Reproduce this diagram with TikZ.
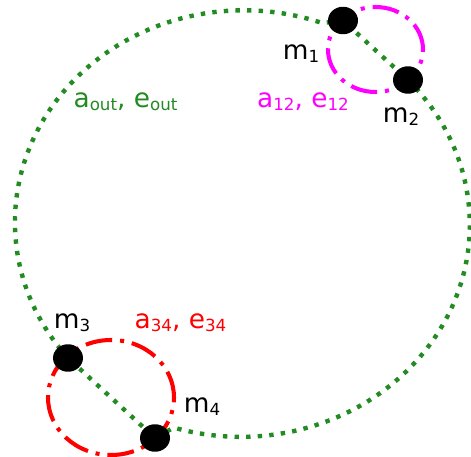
\documentclass[tikz,border=0pt]{standalone}
\usepackage{fontspec}
\setmainfont{DejaVu Sans}
\usetikzlibrary{shapes.geometric}
\definecolor{orbitgreen}{RGB}{34,139,34}
\definecolor{binmagenta}{RGB}{255,0,255}
\definecolor{binred}{RGB}{255,0,0}
\newcommand{\sbs}[1]{\raisebox{-1.6pt}{\fontsize{9.5}{10}\selectfont #1}}
\tikzset{
  orbit/.style={draw=orbitgreen, line width=2.5pt, dash pattern=on 2.5pt off 4.1pt},
  binary/.style={line width=2.3pt, dash pattern=on 15.3pt off 4.5pt on 2.3pt off 4.5pt},
  mass/.style={ellipse, fill=black, inner sep=0pt, minimum width=0.6cm, minimum height=0.55cm},
  lbl/.style={inner sep=0pt, anchor=base, font=\fontsize{15}{18}\selectfont},
}

\begin{document}
\begin{tikzpicture}[x=0.02cm,y=0.02cm]
            \useasboundingbox (0,0) rectangle (471,457);
            \coordinate (p1) at (343,436.5);
            \coordinate (p2) at (408,377);
            \coordinate (p3) at (68,99);
            \coordinate (p4) at (155,19);
            \draw[orbit] (p3) arc[start angle=219.8, end angle=70, x radius=229, y radius=212]
                -- (p1) -- (p2) arc[start angle=43.1, end angle=-107, x radius=229, y radius=212]
                -- (p4) -- cycle;
            \draw[binary, binmagenta] (375.5,407.5) ellipse [x radius=47.5, y radius=42.5];
            \draw[binary, binred] (111,59.5) ellipse [x radius=63, y radius=57.5];
            \node[mass] (m1) at (p1) {};
            \node[mass] (m2) at (p2) {};
            \node[mass] (m3) at (p3) {};
            \node[mass] (m4) at (p4) {};
            \node[lbl] (l1) at (301,397) {m\sbs{1}};
            \node[lbl] (l2) at (401,334) {m\sbs{2}};
            \node[lbl] (l3) at (72,128) {m\sbs{3}};
            \node[lbl] (l4) at (202,44) {m\sbs{4}};
            \node[lbl, orbitgreen] (aout) at (125.5,349) {a\sbs{out}, e\sbs{out}};
            \node[lbl, binmagenta] (a12) at (303,349) {a\sbs{12}, e\sbs{12}};
            \node[lbl, binred] (a34) at (180.5,128) {a\sbs{34}, e\sbs{34}};
\end{tikzpicture}
\end{document}
